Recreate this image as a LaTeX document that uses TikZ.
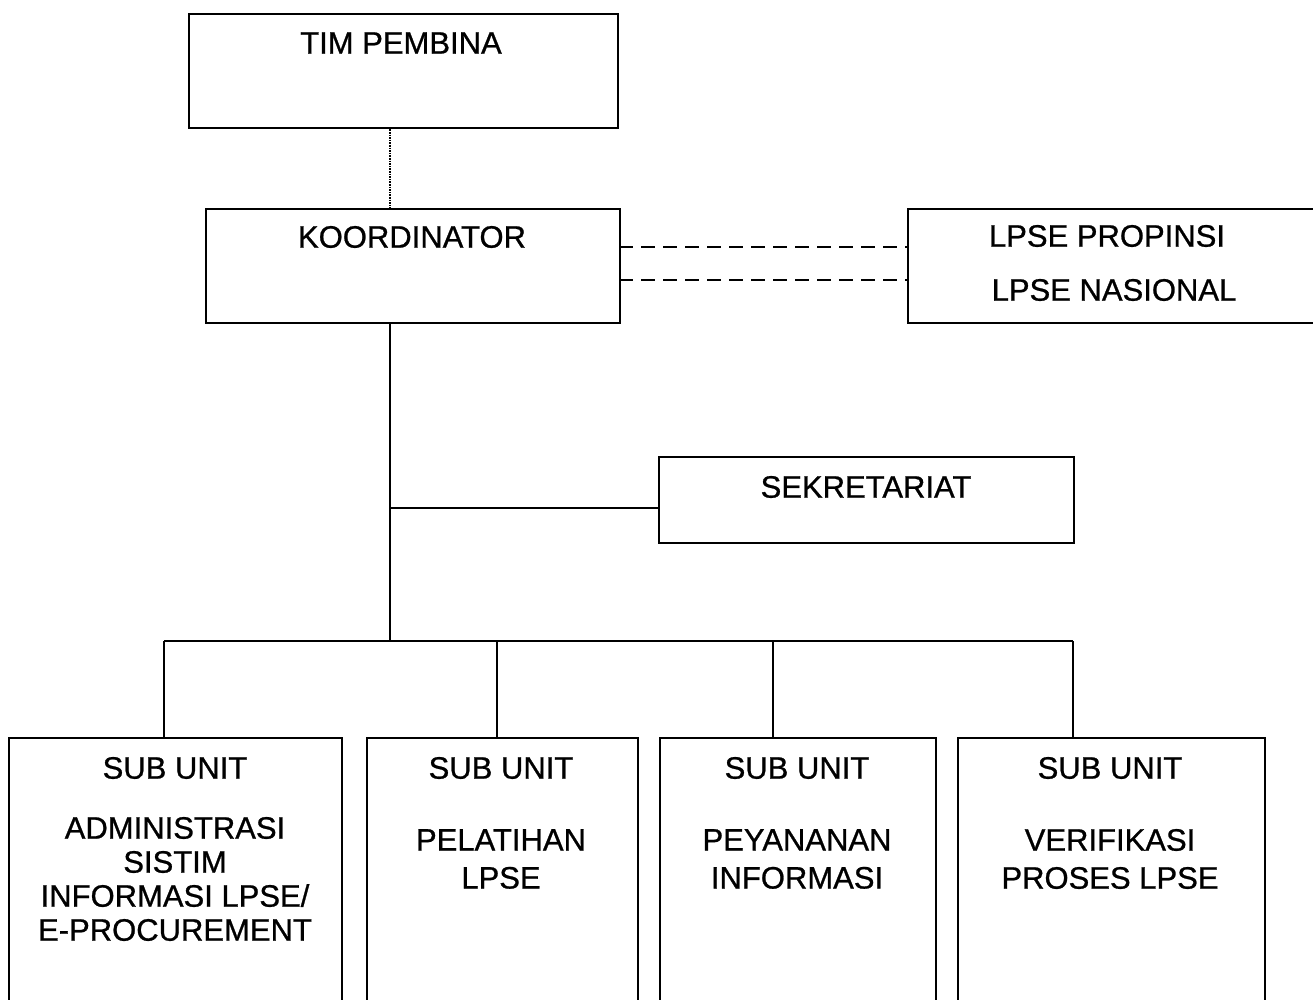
\documentclass[tikz,border=0pt]{standalone}
\usepackage{fontspec}
\setmainfont[FakeBold=0.8]{Liberation Sans}
\begin{document}
\begin{tikzpicture}[x=1pt,y=-1pt,
  box/.style={draw, line width=2.4pt, anchor=north west, inner sep=0pt},
  lbl/.style={font=\fontsize{31}{34}\selectfont, inner sep=0pt, align=center},
  lblwide/.style={font=\fontsize{31}{38}\selectfont, inner sep=0pt, align=center},
  conn/.style={line width=2.4pt},
  dotconn/.style={line width=1.6pt, densely dotted},
  dashconn/.style={line width=2.2pt, dash pattern=on 14pt off 8pt}]
\useasboundingbox (0,0) rectangle (1313,1000);
\clip (0,0) rectangle (1313,1000);
% boxes
\node[box, minimum width=429pt, minimum height=114pt] (tim) at (188,13) {};
\node[box, minimum width=414pt, minimum height=114pt] (koord) at (205,208) {};
\node[box, minimum width=420pt, minimum height=114pt] (lpse) at (907,208) {};
\node[box, minimum width=415pt, minimum height=86pt] (sek) at (658,456) {};
\node[box, minimum width=333pt, minimum height=290pt] (b1) at (8,737) {};
\node[box, minimum width=271pt, minimum height=290pt] (b2) at (366,737) {};
\node[box, minimum width=276pt, minimum height=290pt] (b3) at (659,737) {};
\node[box, minimum width=307pt, minimum height=290pt] (b4) at (957,737) {};
% texts
\node[lbl] (ttim) at (401,43) {TIM PEMBINA};
\node[lbl] (tkoord) at (412,237) {KOORDINATOR};
\node[lbl] (tprop) at (1107,236) {LPSE PROPINSI};
\node[lbl] (tnas) at (1114,290) {LPSE NASIONAL};
\node[lbl] (tsek) at (866,487) {SEKRETARIAT};
\node[lbl] (s1) at (175,768) {SUB UNIT};
\node[lbl] (s2) at (501,768) {SUB UNIT};
\node[lbl] (s3) at (797,768) {SUB UNIT};
\node[lbl] (s4) at (1110,768) {SUB UNIT};
\node[lbl] (u1) at (175,879) {ADMINISTRASI\\SISTIM\\INFORMASI LPSE/\\E-PROCUREMENT};
\node[lblwide] (u2) at (501,859) {PELATIHAN\\LPSE};
\node[lblwide] (u3) at (797,859) {PEYANANAN\\INFORMASI};
\node[lblwide] (u4) at (1110,859) {VERIFIKASI\\PROSES LPSE};
% connectors
\coordinate (trunk) at (390,0);
\coordinate (sekjoin) at (390,508);
\coordinate (bus) at (390,641);
\coordinate (d1) at (164,641);
\coordinate (d2) at (497,641);
\coordinate (d3) at (773,641);
\coordinate (d4) at (1073,641);
\coordinate (da) at (619,247);
\coordinate (db) at (619,280);
\draw[dotconn] (tim.south -| trunk) -- (koord.north -| trunk);
\draw[conn] (koord.south -| trunk) -- (bus);
\draw[conn] (sekjoin) -- (sekjoin -| sek.west);
\draw[conn] (d1) -- (d4);
\draw[conn] (d1) -- (d1 |- b1.north);
\draw[conn] (d2) -- (d2 |- b2.north);
\draw[conn] (d3) -- (d3 |- b3.north);
\draw[conn] (d4) -- (d4 |- b4.north);
\draw[dashconn] (da) -- (da -| lpse.west);
\draw[dashconn] (db) -- (db -| lpse.west);
\end{tikzpicture}
\end{document}
